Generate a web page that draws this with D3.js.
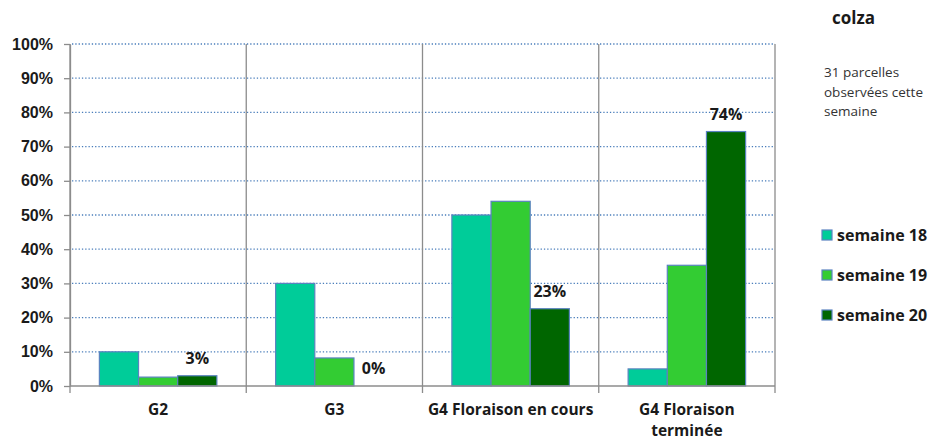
<!DOCTYPE html>
<html>
<head>
<meta charset="utf-8">
<script src="https://cdn.jsdelivr.net/npm/d3@7"></script>
<style>
  body { margin: 0; background: #fff; }
  svg { display: block; font-family: "Open Sans", Lato, sans-serif; }
</style>
</head>
<body>
<div id="chart"></div>
<script>
// data
const categories = ['G2', 'G3', 'G4 Floraison en cours', 'G4 Floraison terminée'];
const categoryLines = [['G2'], ['G3'], ['G4 Floraison en cours'], ['G4 Floraison', 'terminée']];
const seriesNames = ['semaine 18', 'semaine 19', 'semaine 20'];
const sem18 = [10, 30, 50, 5];
const sem19 = [2.6, 8.2, 54, 35.3];
const sem20 = [3, 0, 22.6, 74.4];
const sem20Labels = ['3%', '0%', '23%', '74%'];
const yTicks = [0, 10, 20, 30, 40, 50, 60, 70, 80, 90, 100];
const colors = ['#00cc99', '#33cc33', '#006600'];

const W = 930, H = 441;
const margin = {top: 44, right: 155, bottom: 55, left: 70};
const width = W - margin.left - margin.right,
      height = H - margin.top - margin.bottom;

const svg = d3.select('#chart').append('svg')
  .attr('width', W)
  .attr('height', H);

const g = svg.append('g')
  .attr('transform', 'translate(' + margin.left + ',' + margin.top + ')');

const x0 = d3.scaleBand().domain(categories).range([0, width]).padding(0);
const x1 = d3.scaleBand().domain(seriesNames)
  .range([0, x0.bandwidth()]).paddingOuter(0.75).paddingInner(0);
const y = d3.scaleLinear().domain([0, 100]).range([height, 0]);

// gridlines
g.append('g').selectAll('line')
  .data(yTicks.filter(d => d > 0))
  .enter().append('line')
  .attr('x1', 2).attr('x2', width)
  .attr('y1', d => y(d)).attr('y2', d => y(d))
  .attr('stroke', '#4a7ebb')
  .attr('stroke-width', 1.3)
  .attr('stroke-dasharray', '1.3,2');

// category separators
g.append('g').selectAll('line')
  .data(categories.concat(['end']))
  .enter().append('line')
  .attr('x1', (d, i) => i < categories.length ? x0(d) : width)
  .attr('x2', (d, i) => i < categories.length ? x0(d) : width)
  .attr('y1', 0).attr('y2', height + 7)
  .attr('stroke', '#8c8c8c')
  .attr('stroke-width', 1.3);

// y axis
const yAxis = g.append('g')
  .call(d3.axisLeft(y).tickValues(yTicks).tickSize(6).tickSizeOuter(0).tickFormat(d => d + '%'));
yAxis.select('.domain').attr('stroke', '#8c8c8c').attr('stroke-width', 1.3);
yAxis.selectAll('.tick line').attr('stroke', '#8c8c8c').attr('stroke-width', 1.3);
yAxis.selectAll('.tick text')
  .attr('x', -17)
  .style('font-size', '16px')
  .style('font-weight', 'bold')
  .attr('fill', '#1a1a1a');

// bars
const allSeries = [sem18, sem19, sem20];
const groups = g.append('g').selectAll('g')
  .data(categories)
  .enter().append('g')
  .attr('transform', d => 'translate(' + x0(d) + ',0)');

groups.selectAll('rect')
  .data((d, i) => seriesNames.map((s, j) => ({s: s, j: j, v: allSeries[j][i]})))
  .enter().filter(d => d.v > 0).append('rect')
  .attr('x', d => x1(d.s))
  .attr('width', x1.bandwidth())
  .attr('y', d => y(d.v))
  .attr('height', d => height - y(d.v))
  .attr('fill', d => colors[d.j])
  .attr('stroke', '#5b83c0')
  .attr('stroke-width', 1.2);

// baseline over bars
g.append('line')
  .attr('x1', 0).attr('x2', width)
  .attr('y1', height).attr('y2', height)
  .attr('stroke', '#8c8c8c')
  .attr('stroke-width', 1.5);

// labels for semaine 20
groups.append('text')
  .attr('x', x1('semaine 20') + x1.bandwidth() / 2)
  .attr('y', (d, i) => y(sem20[i]) - 12)
  .attr('text-anchor', 'middle')
  .style('font-size', '16px')
  .style('font-weight', 'bold')
  .attr('fill', '#1a1a1a')
  .text((d, i) => sem20Labels[i]);

// category labels (one text per line)
groups.selectAll('.cat')
  .data((d, i) => categoryLines[i])
  .enter().append('text')
  .attr('class', 'cat')
  .attr('x', x0.bandwidth() / 2)
  .attr('y', (d, i) => height + 29 + i * 21)
  .attr('text-anchor', 'middle')
  .style('font-size', '15.5px')
  .style('font-weight', 'bold')
  .attr('fill', '#1a1a1a')
  .text(d => d);

// title and note
svg.append('text')
  .attr('x', 832).attr('y', 24)
  .style('font-size', '17px')
  .style('font-weight', 'bold')
  .attr('fill', '#1a1a1a')
  .text('colza');

svg.append('g').selectAll('text')
  .data(['31 parcelles', 'observées cette', 'semaine'])
  .enter().append('text')
  .attr('x', 824)
  .attr('y', (d, i) => 77 + i * 19.5)
  .style('font-size', '13.5px')
  .attr('fill', '#333')
  .text(d => d);

// legend
const legend = svg.append('g').selectAll('g')
  .data(seriesNames)
  .enter().append('g')
  .attr('transform', (d, i) => 'translate(822,' + (235 + i * 40) + ')');

legend.append('rect')
  .attr('x', 0).attr('y', -5)
  .attr('width', 10).attr('height', 10)
  .attr('fill', (d, i) => colors[i])
  .attr('stroke', '#5b83c0')
  .attr('stroke-width', 1.2);

legend.append('text')
  .attr('x', 15).attr('y', 6)
  .style('font-size', '16px')
  .style('font-weight', 'bold')
  .attr('fill', '#1a1a1a')
  .text(d => d);
</script>
</body>
</html>
